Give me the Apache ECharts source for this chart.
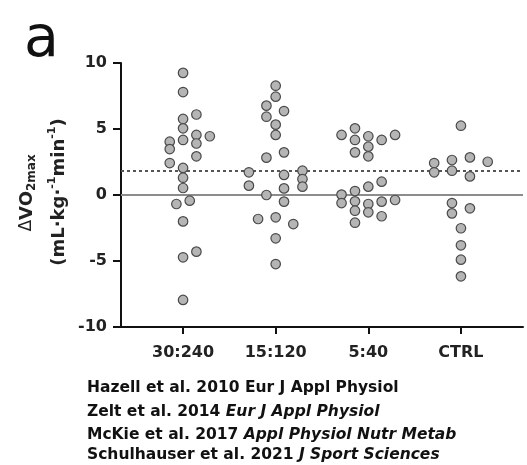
<!DOCTYPE html>
<html>
<head>
<meta charset="utf-8">
<script src="https://cdn.jsdelivr.net/npm/echarts@6/dist/echarts.min.js"></script>
<style>
  html, body { margin: 0; padding: 0; background: #fff; }
  #main { width: 527px; height: 465px; }
</style>
</head>
<body>
<div id="main"></div>
<script>
// groups on the x axis
var groups = ['30:240', '15:120', '5:40', 'CTRL'];
var yTicks = [-10, -5, 0, 5, 10];
var refLines = { zero: 0, dashed: 1.85 };

// change in VO2max per participant
var vals30 = [9.25, 7.8, 6.1, 5.76, 5.05, 4.04, 4.55, 4.45, 4.17, 3.9, 3.48, 2.93, 2.42, 2.05, 1.31, 0.53, -0.68, -0.43, -2.0, -4.72, -4.29, -7.95];
var jit30  = [0, 0, 0.144, 0, 0, -0.144, 0.144, 0.289, 0, 0.144, -0.144, 0.144, -0.144, 0, 0, 0, -0.072, 0.072, 0, 0, 0.144, 0];

var vals15 = [8.28, 7.45, 6.77, 6.36, 5.93, 5.33, 4.55, 3.23, 2.83, 1.72, 1.84, 1.21, 0.63, 1.52, 0.5, 0.71, 0.0, -0.5, -1.82, -1.69, -2.2, -3.28, -5.23];
var jit15  = [0, 0, -0.1, 0.09, -0.1, 0, 0, 0.09, -0.1, -0.289, 0.289, 0.289, 0.289, 0.09, 0.09, -0.289, -0.1, 0.09, -0.19, 0, 0.19, 0, 0];

var vals5 = [4.55, 5.05, 4.17, 4.45, 4.17, 4.55, 3.66, 3.23, 2.93, 1.01, 0.63, 0.30, 0.03, -0.61, -0.48, -0.68, -0.5, -0.38, -1.19, -1.31, -1.61, -2.1];
var jit5  = [-0.289, -0.144, -0.144, 0, 0.144, 0.289, 0, -0.144, 0, 0.144, 0, -0.144, -0.289, -0.289, -0.144, 0, 0.144, 0.289, -0.144, 0, 0.144, -0.144];

var valsCtrl = [5.25, 2.42, 2.65, 2.85, 2.52, 1.72, 1.84, 1.41, -0.61, -1.39, -1.01, -2.52, -3.81, -4.9, -6.16];
var jitCtrl  = [0, -0.289, -0.097, 0.097, 0.289, -0.289, -0.097, 0.097, -0.097, -0.097, 0.097, 0, 0, 0, 0];

var allVals = [vals30, vals15, vals5, valsCtrl];
var allJit = [jit30, jit15, jit5, jitCtrl];

var FONT = 'DejaVu Sans';

var myChart = echarts.init(document.getElementById('main'), null, { renderer: 'canvas' });

var scatterSeries = groups.map(function (g, i) {
    return {
        name: g,
        type: 'scatter',
        z: 5,
        symbol: 'circle',
        symbolSize: 9.5,
        itemStyle: { color: '#b5b5b5', borderColor: '#4a4a4a', borderWidth: 1.2, opacity: 1 },
        data: allVals[i].map(function (v, j) { return [i + 1 + allJit[i][j], v]; })
    };
});

var lineSeries = {
    type: 'scatter',
    z: 1,
    data: [],
    markLine: {
        silent: true,
        symbol: 'none',
        label: { show: false },
        animation: false,
        data: [
            { yAxis: refLines.zero, lineStyle: { color: '#8c8c8c', width: 2, type: 'solid' } },
            { yAxis: refLines.dashed, lineStyle: { color: '#555', width: 2, type: [3, 3] } }
        ]
    }
};

function richLine(y, plain, italic) {
    return {
        type: 'text', x: 87, y: y,
        style: {
            text: '{n|' + plain + '}' + (italic ? '{i|' + italic + '}' : ''),
            verticalAlign: 'middle',
            rich: {
                n: { fontFamily: FONT, fontSize: 15.5, fontWeight: 'bold', fill: '#111' },
                i: { fontFamily: FONT, fontSize: 15.5, fontWeight: 'bold', fontStyle: 'italic', fill: '#111' }
            }
        }
    };
}

myChart.setOption({
    animation: false,
    grid: { left: 121, right: 4, top: 63, bottom: 138 },
    xAxis: {
        type: 'value',
        min: 0.33,
        max: 4.67,
        splitLine: { show: false },
        axisLine: { show: true, onZero: false, lineStyle: { color: '#111', width: 2 } },
        axisTick: { show: true, customValues: [1, 2, 3, 4], length: 7, lineStyle: { color: '#111', width: 2 } },
        axisLabel: {
            customValues: [1, 2, 3, 4],
            formatter: function (v) { return groups[Math.round(v) - 1]; },
            margin: 18,
            color: '#222',
            fontFamily: FONT,
            fontWeight: 'bold',
            fontSize: 16
        }
    },
    yAxis: {
        type: 'value',
        min: yTicks[0],
        max: yTicks[yTicks.length - 1],
        interval: 5,
        splitLine: { show: false },
        axisLine: { show: true, onZero: false, lineStyle: { color: '#111', width: 2 } },
        axisTick: { show: true, length: 8, lineStyle: { color: '#111', width: 2 } },
        axisLabel: {
            margin: 14,
            color: '#222',
            fontFamily: FONT,
            fontWeight: 'bold',
            fontSize: 16
        }
    },
    graphic: [
        {
            type: 'text', left: 24, top: 13,
            style: { text: 'a', fontFamily: FONT, fontSize: 57, fill: '#111' }
        },
        {
            type: 'text', x: 27, y: 193, rotation: Math.PI / 2,
            style: {
                text: '{d|Δ}{b|VO}{s|2max}',
                align: 'center', verticalAlign: 'middle',
                rich: {
                    d: { fontFamily: FONT, fontSize: 17, fill: '#222', lineHeight: 22 },
                    b: { fontFamily: FONT, fontSize: 18, fontWeight: 'bold', fill: '#222', lineHeight: 22 },
                    s: { fontFamily: FONT, fontSize: 12, fontWeight: 'bold', fill: '#222', lineHeight: 12, verticalAlign: 'bottom' }
                }
            }
        },
        {
            type: 'text', x: 59, y: 192, rotation: Math.PI / 2,
            style: {
                text: '{b|(mL·kg·}{p|-1}{b|min}{p|-1}{b|)}',
                align: 'center', verticalAlign: 'middle',
                rich: {
                    b: { fontFamily: FONT, fontSize: 18, fontWeight: 'bold', fill: '#222', lineHeight: 24 },
                    p: { fontFamily: FONT, fontSize: 11, fontWeight: 'bold', fill: '#222', lineHeight: 12, verticalAlign: 'top' }
                }
            }
        },
        richLine(388, 'Hazell et al. 2010 Eur J Appl Physiol', ''),
        richLine(412, 'Zelt et al. 2014 ', 'Eur J Appl Physiol'),
        richLine(435, 'McKie et al. 2017 ', 'Appl Physiol Nutr Metab'),
        richLine(455, 'Schulhauser et al. 2021 ', 'J Sport Sciences')
    ],
    series: [lineSeries].concat(scatterSeries)
});
</script>
</body>
</html>
